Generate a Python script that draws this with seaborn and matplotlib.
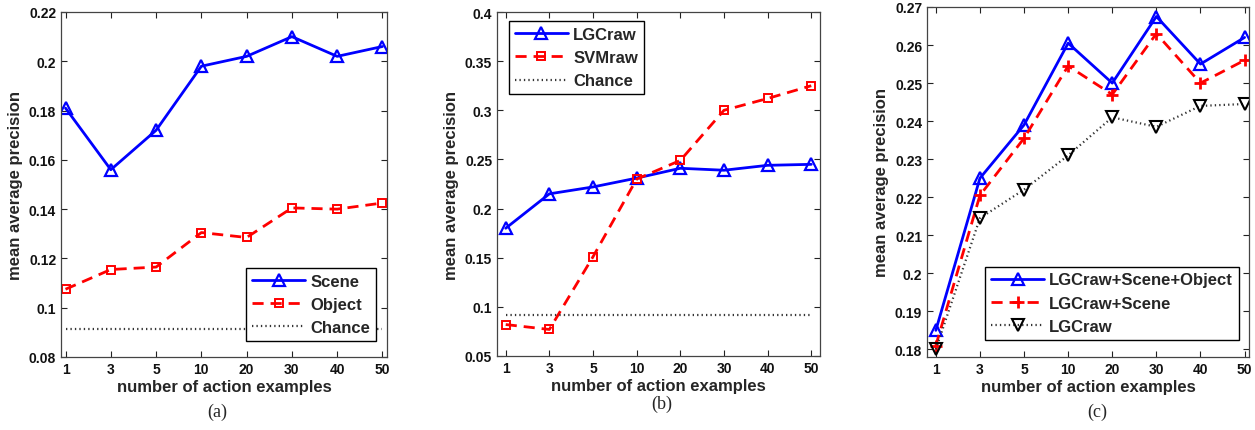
import numpy as np
import pandas as pd
import matplotlib
matplotlib.use('Agg')
import matplotlib.pyplot as plt
import seaborn as sns

# x categories (evenly spaced like the original)
examples = ['1', '3', '5', '10', '20', '30', '40', '50']

# panel (a)
scene = [0.181, 0.156, 0.172, 0.198, 0.202, 0.210, 0.202, 0.206]
obj = [0.1075, 0.1155, 0.1165, 0.1305, 0.1285, 0.1405, 0.1400, 0.1425]
chance_a = [0.0915] * 8

# panel (b)
lgc_raw_b = [0.180, 0.215, 0.222, 0.231, 0.241, 0.239, 0.244, 0.245]
svm_raw = [0.082, 0.077, 0.151, 0.230, 0.249, 0.300, 0.312, 0.325]
chance_b = [0.0915] * 8

# panel (c)
lgc_scene_obj = [0.185, 0.225, 0.239, 0.2605, 0.250, 0.2675, 0.255, 0.262]
lgc_scene = [0.181, 0.2205, 0.2355, 0.2545, 0.247, 0.263, 0.250, 0.256]
lgc_raw_c = [0.180, 0.2145, 0.222, 0.231, 0.241, 0.2385, 0.244, 0.2445]

sns.set_style('ticks')
plt.rcParams['font.family'] = ['Liberation Sans', 'DejaVu Sans']
plt.rcParams['font.weight'] = 'bold'
plt.rcParams['axes.labelweight'] = 'bold'

W, H = 1255, 431
fig = plt.figure(figsize=(W / 100, H / 100), dpi=100)


def box(l, r, t, b):
    return [l / W, (H - b) / H, (r - l) / W, (b - t) / H]


ax_a = fig.add_axes(box(61, 387, 13, 358))
ax_b = fig.add_axes(box(497, 820, 13, 357))
ax_c = fig.add_axes(box(927, 1249, 8, 358))

x = np.arange(len(examples))

BLUE, RED, DARK = '#0000ff', '#ff0000', '#333333'
blue = dict(color=BLUE, lw=2, ls='-', marker='^', ms=8, mfc='none', mec=BLUE, mew=1.6)
red_sq = dict(color=RED, lw=2, ls=(0, (4, 2.5)), marker='s', ms=5.5, mfc='none', mec=RED, mew=1.4)
dot = dict(color=DARK, lw=1.6, ls=(0, (0.6, 1.4)))

# (a)
sns.lineplot(x=x, y=scene, ax=ax_a, label='Scene', **blue)
sns.lineplot(x=x, y=obj, ax=ax_a, label='Object', **red_sq)
sns.lineplot(x=x, y=chance_a, ax=ax_a, label='Chance', **dot)
ax_a.set_ylim(0.08, 0.22)
ax_a.set_yticks(np.arange(0.08, 0.2201, 0.02))
ax_a.set_xlim(-0.1, 7.1)

# (b)
sns.lineplot(x=x, y=lgc_raw_b, ax=ax_b, label='LGCraw', **blue)
sns.lineplot(x=x, y=svm_raw, ax=ax_b, label='SVMraw', **red_sq)
sns.lineplot(x=x, y=chance_b, ax=ax_b, label='Chance', **dot)
ax_b.set_ylim(0.05, 0.4)
ax_b.set_yticks(np.arange(0.05, 0.4001, 0.05))
ax_b.set_xlim(-0.2, 7.2)

# (c)
sns.lineplot(x=x, y=lgc_scene_obj, ax=ax_c, label='LGCraw+Scene+Object', **blue)
sns.lineplot(x=x, y=lgc_scene, ax=ax_c, label='LGCraw+Scene',
             color=RED, lw=2, ls=(0, (4, 2.5)), marker='+', ms=9, mec=RED, mew=2)
sns.lineplot(x=x, y=lgc_raw_c, ax=ax_c, label='LGCraw',
             color=DARK, lw=1.6, ls=(0, (0.6, 1.4)), marker='v', ms=8, mfc='none', mew=1.5, mec='black')
ax_c.set_ylim(0.178, 0.27)
ax_c.set_yticks(np.arange(0.18, 0.2701, 0.01))
ax_c.set_xlim(-0.2, 7.1)


def fmt(v):
    s = ('%.2f' % v).rstrip('0')
    return s


legend_pos = {ax_a: ('lower right', (0.966, 0.046)),
              ax_b: ('upper left', (0.037, 0.974)),
              ax_c: ('lower right', (0.969, 0.049))}
for ax in (ax_a, ax_b, ax_c):
    ax.set_xticks(x)
    ax.set_xticklabels(examples)
    ax.set_yticklabels([fmt(v) for v in ax.get_yticks()])
    ax.tick_params(direction='in', top=True, right=True, labelsize=10, length=4, width=0.8, colors='#222222')
    for lab in ax.get_xticklabels() + ax.get_yticklabels():
        lab.set_fontweight('bold')
        lab.set_color('#111111')
    for sp in ax.spines.values():
        sp.set_visible(True)
        sp.set_color('#444444')
        sp.set_linewidth(0.9)
    ax.set_xlabel('number of action examples', fontsize=12, fontweight='bold', labelpad=2)
    ax.set_ylabel('mean average precision', fontsize=12, fontweight='bold', labelpad=4)
    loc, anchor = legend_pos[ax]
    leg = ax.legend(loc=loc, bbox_to_anchor=anchor, fancybox=False, framealpha=1, edgecolor='black',
                    prop={'size': 12, 'weight': 'bold'}, handlelength=3.2, handletextpad=0.3,
                    borderpad=0.35, labelspacing=0.5, borderaxespad=0)
    leg.get_frame().set_linewidth(1.0)

for xc, yc, t in [(217, 412, '(a)'), (662, 404, '(b)'), (1097, 412, '(c)')]:
    fig.text(xc / W, (H - yc) / H, t, ha='center', va='center',
             family=['Liberation Serif', 'DejaVu Serif'], fontsize=13, fontweight='normal')

fig.savefig('out.png', dpi=100)
